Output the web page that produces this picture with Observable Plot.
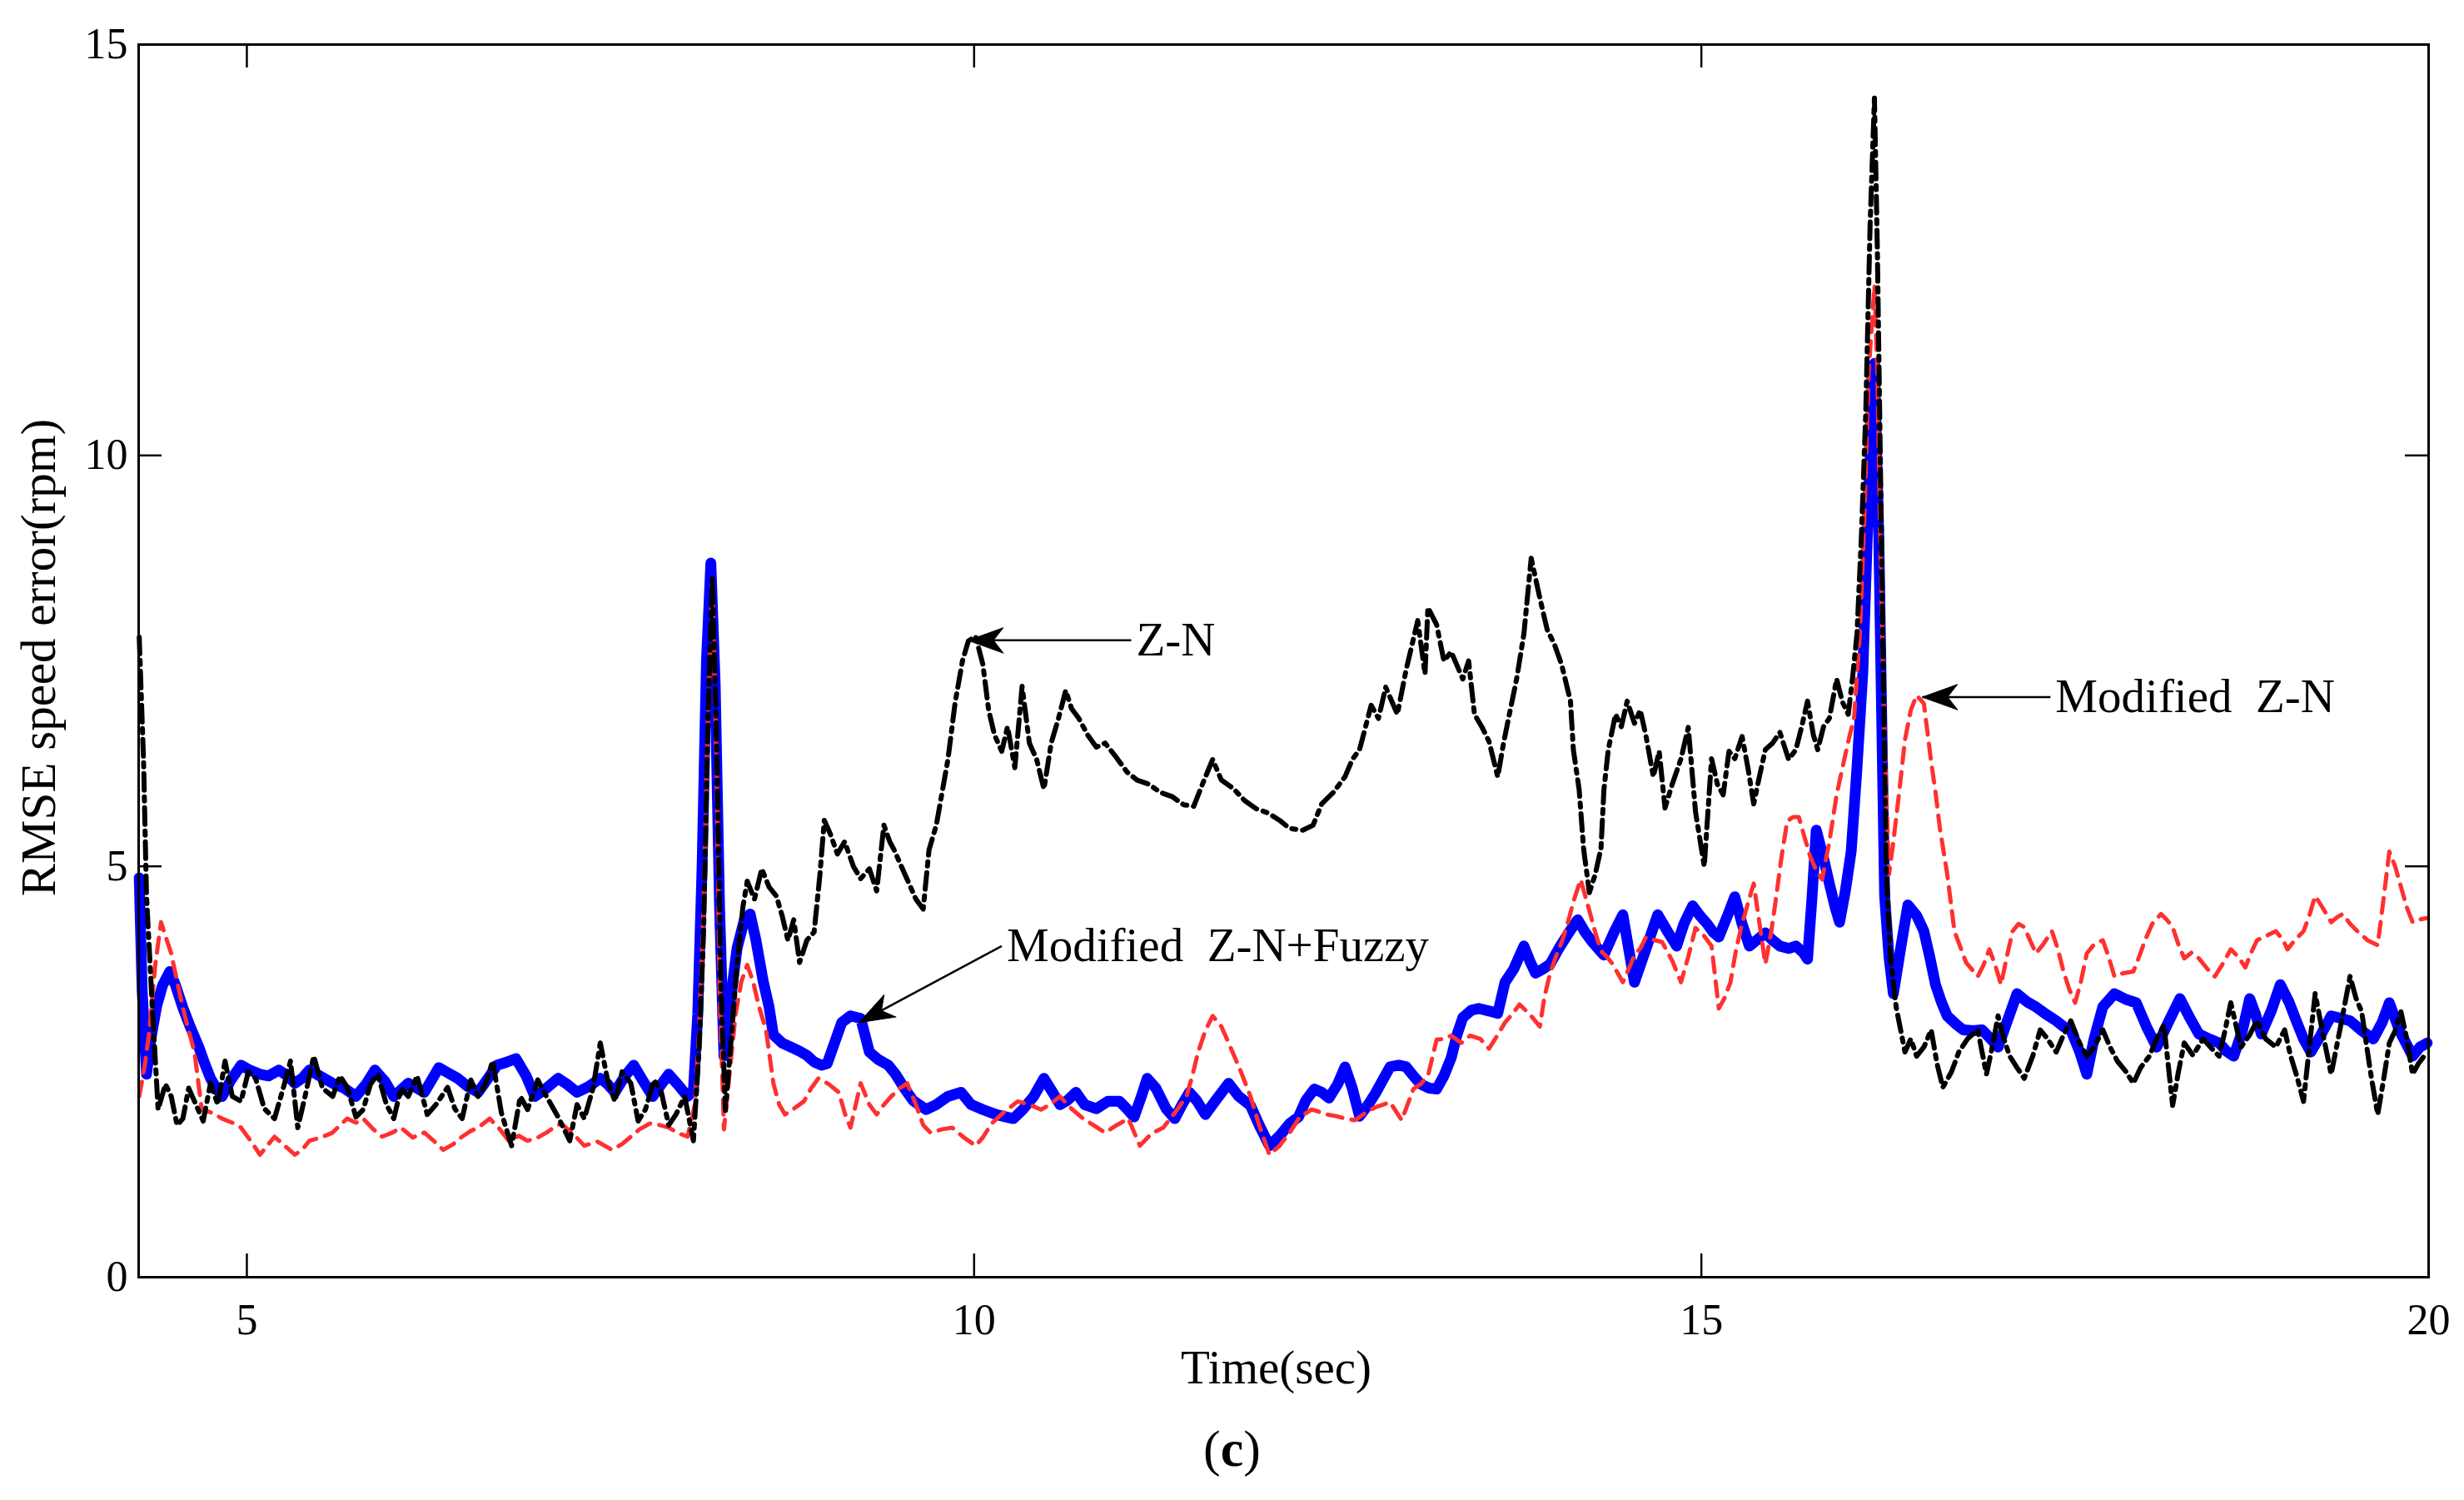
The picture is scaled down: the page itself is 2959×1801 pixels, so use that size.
<!DOCTYPE html>
<html>
<head>
<meta charset="utf-8">
<script src="https://cdn.jsdelivr.net/npm/d3@7"></script>
<script src="https://cdn.jsdelivr.net/npm/@observablehq/plot@0.6"></script>
<style>
  html, body { margin: 0; padding: 0; background: white; overflow: hidden; }
</style>
</head>
<body>
<div id="chart"></div>
<script>
// ---------- Data ----------
const xTicks = [5, 10, 15, 20];
const yTicks = [0, 5, 10, 15];

// Z-N (black, dash-dot)
const znTime = [4.26,4.29,4.31,4.35,4.39,4.44,4.48,4.52,4.56,4.60,4.64,4.70,4.75,4.80,4.85,4.90,4.96,5.01,5.06,5.12,5.19,5.25,5.30,5.35,5.40,5.46,5.52,5.59,5.64,5.69,5.75,5.80,5.85,5.90,5.96,6.01,6.06,6.11,6.17,6.24,6.30,6.38,6.43,6.48,6.54,6.59,6.64,6.69,6.75,6.82,6.88,6.93,7.00,7.06,7.14,7.22,7.27,7.32,7.38,7.43,7.48,7.53,7.58,7.64,7.69,7.74,7.80,7.85,7.90,7.95,8.01,8.07,8.11,8.14,8.17,8.20,8.23,8.26,8.29,8.33,8.37,8.41,8.44,8.49,8.54,8.59,8.64,8.68,8.72,8.76,8.80,8.85,8.90,8.94,8.97,9.01,9.06,9.11,9.17,9.22,9.28,9.33,9.38,9.42,9.45,9.50,9.55,9.60,9.65,9.69,9.74,9.78,9.82,9.87,9.92,9.96,10.01,10.06,10.10,10.14,10.19,10.23,10.28,10.33,10.38,10.43,10.48,10.53,10.58,10.63,10.67,10.72,10.78,10.84,10.90,10.98,11.05,11.12,11.20,11.28,11.36,11.44,11.51,11.57,11.64,11.70,11.78,11.86,11.94,12.02,12.10,12.17,12.26,12.33,12.39,12.47,12.55,12.60,12.65,12.73,12.78,12.83,12.91,12.97,13.05,13.10,13.12,13.18,13.23,13.28,13.36,13.40,13.44,13.49,13.54,13.60,13.64,13.68,13.73,13.78,13.83,13.89,13.94,13.99,14.04,14.10,14.12,14.16,14.19,14.23,14.27,14.31,14.33,14.36,14.41,14.45,14.49,14.54,14.58,14.62,14.67,14.71,14.75,14.80,14.86,14.91,14.96,15.02,15.07,15.11,15.15,15.19,15.23,15.28,15.32,15.36,15.40,15.44,15.49,15.54,15.60,15.65,15.69,15.73,15.77,15.80,15.84,15.88,15.93,15.97,16.01,16.04,16.07,16.10,16.13,16.16,16.19,16.21,16.23,16.25,16.27,16.30,16.34,16.40,16.44,16.48,16.53,16.58,16.62,16.66,16.72,16.77,16.83,16.90,16.96,17.00,17.04,17.08,17.12,17.17,17.22,17.28,17.33,17.38,17.44,17.49,17.54,17.60,17.65,17.70,17.76,17.81,17.86,17.92,17.97,18.02,18.08,18.13,18.18,18.24,18.28,18.32,18.38,18.45,18.50,18.56,18.60,18.64,18.71,18.77,18.82,18.88,18.95,19.01,19.05,19.09,19.14,19.18,19.22,19.28,19.33,19.40,19.46,19.50,19.54,19.60,19.65,19.69,19.73,19.77,19.81,19.85,19.89,19.93,19.99];
const znValue = [7.79,6.27,4.64,3.28,2.04,2.35,2.2,1.85,1.93,2.3,2.14,1.9,2.36,2.1,2.63,2.2,2.14,2.5,2.42,2.05,1.93,2.3,2.63,1.82,2.2,2.69,2.3,2.2,2.45,2.31,1.95,2.04,2.35,2.47,2.1,1.93,2.3,2.2,2.45,1.98,2.1,2.31,2.05,1.93,2.4,2.2,2.35,2.63,2.0,1.6,2.2,2.04,2.4,2.2,1.95,1.66,2.1,1.93,2.3,2.85,2.4,2.14,2.5,2.36,1.9,2.04,2.4,2.25,1.85,1.98,2.2,1.66,2.8,4.2,6.8,8.5,6.5,3.5,2.03,2.9,3.8,4.5,4.82,4.6,4.97,4.75,4.64,4.4,4.1,4.35,3.83,4.1,4.2,4.9,5.56,5.4,5.15,5.3,5.0,4.85,4.97,4.7,5.5,5.3,5.2,5.0,4.8,4.6,4.48,5.2,5.5,5.9,6.3,7.0,7.5,7.74,7.8,7.46,6.9,6.6,6.4,6.7,6.2,7.19,6.5,6.3,5.94,6.5,6.8,7.14,6.92,6.8,6.6,6.45,6.5,6.32,6.15,6.05,6.0,5.9,5.85,5.75,5.73,6.0,6.3,6.05,5.95,5.8,5.7,5.65,5.56,5.46,5.44,5.5,5.76,5.9,6.09,6.3,6.42,6.96,6.8,7.18,6.85,7.39,7.99,7.34,8.15,7.94,7.5,7.61,7.28,7.5,6.85,6.7,6.52,6.09,6.5,6.85,7.28,7.83,8.75,8.26,7.88,7.7,7.45,7.01,6.42,5.93,5.22,4.68,4.9,5.22,5.93,6.42,6.85,6.7,7.01,6.74,6.9,6.58,6.09,6.4,5.71,6.0,6.31,6.69,5.66,5.0,6.31,6.0,5.87,6.4,6.31,6.58,6.2,5.76,6.1,6.42,6.5,6.63,6.3,6.42,6.7,7.01,6.6,6.42,6.7,6.8,7.28,7.0,6.85,7.3,7.83,9.0,10.5,12.8,14.35,12.5,10.0,7.5,5.0,3.9,3.28,2.74,2.9,2.69,2.8,3.01,2.6,2.31,2.5,2.74,2.9,3.01,2.47,2.8,3.18,2.9,2.69,2.55,2.42,2.7,3.01,2.9,2.74,2.95,3.12,2.85,2.69,2.8,3.01,2.8,2.63,2.5,2.36,2.55,2.69,2.9,3.07,2.09,2.5,2.85,2.7,2.9,2.8,2.69,3.0,3.34,2.8,2.95,3.12,2.9,2.8,3.01,2.7,2.47,2.14,2.8,3.45,2.9,2.47,3.1,3.66,3.4,3.23,2.5,1.98,2.4,2.85,3.0,3.23,2.9,2.47,2.6,2.74];

// Modified Z-N (red, dashed)
const mznTime = [4.26,4.30,4.33,4.37,4.41,4.45,4.48,4.52,4.56,4.60,4.64,4.69,4.76,4.83,4.90,4.96,5.03,5.09,5.14,5.19,5.26,5.33,5.38,5.43,5.51,5.59,5.64,5.69,5.75,5.80,5.87,5.93,6.00,6.06,6.14,6.22,6.29,6.35,6.42,6.48,6.54,6.59,6.67,6.74,6.80,6.87,6.93,7.00,7.06,7.11,7.16,7.24,7.32,7.41,7.51,7.58,7.64,7.70,7.77,7.84,7.90,7.97,8.03,8.08,8.11,8.14,8.17,8.20,8.23,8.25,8.28,8.32,8.36,8.40,8.44,8.48,8.52,8.57,8.62,8.66,8.70,8.76,8.83,8.88,8.93,9.00,9.07,9.11,9.15,9.22,9.28,9.33,9.38,9.43,9.49,9.54,9.60,9.65,9.70,9.78,9.85,9.93,10.01,10.06,10.12,10.20,10.30,10.38,10.46,10.52,10.59,10.67,10.75,10.82,10.90,10.98,11.06,11.14,11.22,11.30,11.38,11.46,11.50,11.54,11.59,11.64,11.70,11.75,11.83,11.90,11.96,12.03,12.10,12.17,12.24,12.32,12.36,12.43,12.49,12.55,12.62,12.69,12.76,12.86,12.94,13.02,13.07,13.12,13.18,13.23,13.28,13.35,13.41,13.48,13.54,13.60,13.65,13.70,13.75,13.82,13.89,13.92,13.96,14.00,14.04,14.08,14.12,14.17,14.23,14.27,14.31,14.35,14.39,14.46,14.50,14.54,14.58,14.62,14.68,14.73,14.80,14.86,14.91,14.96,15.02,15.07,15.12,15.16,15.20,15.24,15.28,15.32,15.36,15.40,15.44,15.48,15.51,15.55,15.59,15.63,15.67,15.71,15.75,15.79,15.83,15.88,15.93,15.97,16.01,16.05,16.09,16.12,16.15,16.19,16.21,16.23,16.26,16.29,16.32,16.36,16.40,16.44,16.48,16.53,16.58,16.61,16.64,16.69,16.74,16.82,16.90,16.94,16.98,17.02,17.06,17.10,17.14,17.18,17.22,17.26,17.30,17.35,17.41,17.45,17.49,17.53,17.57,17.61,17.65,17.70,17.76,17.80,17.84,17.90,17.97,18.01,18.05,18.10,18.16,18.20,18.24,18.28,18.32,18.37,18.42,18.48,18.53,18.58,18.64,18.69,18.74,18.78,18.82,18.88,18.95,19.00,19.03,19.08,19.14,19.18,19.22,19.27,19.33,19.37,19.41,19.46,19.51,19.58,19.65,19.69,19.73,19.77,19.81,19.85,19.89,19.93,19.99];
const mznValue = [2.2,2.6,3.0,3.8,4.32,4.1,3.94,3.6,3.28,3.0,2.74,2.04,2.0,1.93,1.88,1.82,1.65,1.49,1.6,1.71,1.6,1.49,1.55,1.66,1.7,1.76,1.85,1.93,1.88,1.93,1.8,1.71,1.76,1.82,1.7,1.76,1.65,1.55,1.62,1.71,1.78,1.82,1.93,1.8,1.66,1.72,1.66,1.7,1.76,1.82,1.87,1.75,1.6,1.65,1.55,1.62,1.71,1.8,1.87,1.85,1.82,1.75,1.71,2.1,3.0,4.5,6.8,8.5,6.2,3.5,1.8,2.5,3.2,3.6,3.8,3.6,3.3,3.0,2.36,2.1,1.98,2.05,2.14,2.3,2.42,2.35,2.25,2.0,1.82,2.36,2.1,1.98,2.1,2.2,2.3,2.36,2.1,1.85,1.76,1.8,1.82,1.7,1.6,1.7,1.87,2.0,2.14,2.1,2.04,2.1,2.2,2.05,1.93,1.85,1.76,1.85,1.93,1.6,1.75,1.82,2.0,2.2,2.45,2.74,3.0,3.18,3.05,2.85,2.52,2.2,1.85,1.49,1.6,1.76,1.95,2.04,2.02,1.98,1.96,1.93,1.91,2.0,2.07,2.13,1.91,2.29,2.35,2.45,2.89,2.9,2.94,2.85,2.94,2.9,2.78,2.95,3.10,3.2,3.32,3.2,3.05,3.4,3.70,3.9,4.08,4.3,4.57,4.84,4.46,4.2,3.97,3.9,3.81,3.59,3.75,3.92,4.0,4.14,4.1,4.08,3.85,3.59,3.9,4.25,4.15,4.03,3.27,3.4,3.59,4.0,4.30,4.55,4.79,4.3,3.81,4.2,4.57,5.1,5.55,5.6,5.60,5.35,5.11,4.95,4.84,5.3,5.87,6.2,6.52,6.81,7.83,9.2,11.0,12.07,11.0,9.0,6.5,4.9,5.3,5.9,6.54,6.9,7.08,6.98,6.27,5.9,5.46,4.91,4.21,3.83,3.66,3.8,3.99,3.8,3.56,3.9,4.21,4.3,4.26,4.1,3.94,4.05,4.21,4.0,3.72,3.5,3.34,3.6,3.94,4.05,4.10,3.9,3.66,3.7,3.72,3.9,4.10,4.3,4.42,4.35,4.26,4.05,3.88,3.95,3.88,3.75,3.66,3.8,3.99,3.9,3.77,3.95,4.10,4.15,4.21,4.1,3.99,4.1,4.21,4.4,4.64,4.5,4.32,4.38,4.42,4.3,4.21,4.1,4.04,4.6,5.18,5.0,4.75,4.5,4.32,4.35,4.37];

// Modified Z-N+Fuzzy (blue, thick solid)
const fzTime = [4.26,4.28,4.31,4.34,4.38,4.42,4.47,4.51,4.56,4.61,4.67,4.71,4.75,4.79,4.83,4.89,4.96,5.02,5.09,5.15,5.22,5.28,5.33,5.38,5.43,5.50,5.59,5.67,5.75,5.82,5.88,5.95,6.01,6.06,6.11,6.17,6.22,6.27,6.32,6.39,6.45,6.52,6.59,6.65,6.72,6.79,6.85,6.92,6.98,7.06,7.14,7.20,7.27,7.35,7.43,7.48,7.53,7.60,7.66,7.72,7.79,7.85,7.90,7.96,8.03,8.07,8.10,8.13,8.16,8.19,8.22,8.25,8.28,8.32,8.37,8.42,8.46,8.50,8.55,8.59,8.62,8.68,8.74,8.80,8.85,8.90,8.95,8.99,9.04,9.09,9.15,9.22,9.28,9.34,9.41,9.46,9.52,9.58,9.67,9.74,9.82,9.91,9.98,10.06,10.15,10.22,10.27,10.34,10.41,10.48,10.54,10.59,10.64,10.70,10.76,10.84,10.92,11.00,11.05,11.10,11.15,11.19,11.25,11.32,11.38,11.43,11.48,11.53,11.59,11.66,11.75,11.82,11.90,11.96,12.03,12.10,12.17,12.23,12.28,12.34,12.39,12.44,12.50,12.55,12.60,12.65,12.71,12.76,12.81,12.86,12.92,12.97,13.02,13.07,13.13,13.18,13.23,13.28,13.32,13.36,13.42,13.47,13.54,13.60,13.65,13.71,13.78,13.82,13.86,13.91,13.96,14.02,14.07,14.11,14.15,14.20,14.25,14.29,14.33,14.40,14.46,14.50,14.54,14.62,14.70,14.77,14.83,14.88,14.94,14.99,15.04,15.08,15.12,15.18,15.23,15.28,15.33,15.38,15.44,15.49,15.54,15.60,15.65,15.70,15.73,15.76,15.79,15.84,15.88,15.92,15.95,15.99,16.03,16.07,16.11,16.15,16.19,16.22,16.24,16.26,16.29,16.32,16.37,16.42,16.48,16.53,16.57,16.61,16.65,16.69,16.75,16.80,16.87,16.93,16.99,17.04,17.10,17.17,17.24,17.30,17.37,17.44,17.49,17.54,17.60,17.65,17.70,17.76,17.84,17.92,17.99,18.06,18.13,18.21,18.29,18.36,18.42,18.49,18.56,18.61,18.66,18.72,18.77,18.81,18.85,18.92,18.98,19.04,19.09,19.14,19.19,19.26,19.33,19.40,19.46,19.54,19.62,19.68,19.73,19.80,19.89,19.94,19.99];
const fzValue = [4.86,3.5,2.47,2.9,3.3,3.55,3.72,3.55,3.28,3.05,2.8,2.6,2.42,2.3,2.2,2.4,2.58,2.52,2.47,2.45,2.52,2.45,2.36,2.42,2.52,2.45,2.36,2.3,2.2,2.35,2.52,2.38,2.2,2.28,2.36,2.3,2.25,2.4,2.55,2.48,2.42,2.32,2.25,2.4,2.58,2.62,2.66,2.45,2.2,2.3,2.42,2.35,2.25,2.32,2.42,2.35,2.25,2.45,2.58,2.4,2.2,2.35,2.47,2.35,2.2,2.27,3.2,5.0,7.5,8.69,7.2,4.5,2.69,3.3,4.0,4.35,4.42,4.1,3.6,3.29,2.95,2.85,2.8,2.75,2.7,2.62,2.58,2.6,2.85,3.1,3.18,3.15,2.74,2.65,2.58,2.47,2.3,2.15,2.04,2.1,2.2,2.25,2.1,2.04,1.98,1.95,1.93,2.05,2.2,2.42,2.25,2.1,2.15,2.25,2.1,2.05,2.14,2.14,2.05,1.95,2.2,2.42,2.3,2.05,1.93,2.1,2.25,2.15,1.98,2.15,2.36,2.2,2.09,1.85,1.6,1.72,1.87,1.95,2.15,2.29,2.25,2.18,2.35,2.56,2.3,1.96,2.1,2.24,2.4,2.56,2.58,2.56,2.45,2.35,2.3,2.29,2.45,2.67,2.95,3.16,3.25,3.27,3.24,3.21,3.59,3.75,4.03,3.85,3.70,3.75,3.81,4.0,4.14,4.25,4.35,4.2,4.08,4.0,3.92,4.2,4.41,4.0,3.59,4.0,4.41,4.2,4.03,4.3,4.52,4.4,4.30,4.2,4.14,4.4,4.63,4.3,4.03,4.1,4.19,4.1,4.03,4.0,4.03,3.95,3.87,4.6,5.44,5.1,4.79,4.5,4.32,4.7,5.18,6.2,7.36,9.5,11.12,9.0,6.8,4.64,3.9,3.45,4.0,4.53,4.4,4.21,3.9,3.56,3.35,3.18,3.08,3.01,3.0,3.01,2.9,2.80,3.1,3.45,3.35,3.29,3.2,3.12,3.05,3.01,2.75,2.47,2.9,3.29,3.45,3.38,3.34,3.05,2.80,3.1,3.39,3.15,2.96,2.9,2.85,2.75,2.69,3.0,3.39,3.2,2.96,3.25,3.56,3.35,3.12,2.9,2.74,2.95,3.18,3.15,3.12,3.0,2.90,3.1,3.34,3.0,2.69,2.8,2.85];

// Annotations: label, text anchor point (t, value), arrow tip (t, value)
const annLabel = ["Z-N", "Modified\u00a0 Z-N+Fuzzy", "Modified\u00a0 Z-N"];
const annTextT = [11.08, 10.19, 17.40];
const annTextV = [7.75, 4.03, 7.06];
const annTipT  = [9.96, 9.21, 16.52];
const annTipV  = [7.75, 3.10, 7.06];

// ---------- Build tables ----------
const toRows = (ts, vs) => ts.map((t, i) => ({t, v: vs[i]}));
const zn = toRows(znTime, znValue);
const mzn = toRows(mznTime, mznValue);
const fz = toRows(fzTime, fzValue);

const W = 2959, H = 1801;
const mL = 166, mR = 43, mT = 53, mB = 268;
const frameW = W - mL - mR, frameH = H - mT - mB;
const xDomain = [4.256, 20], yDomain = [0, 15];
const kx = frameW / (xDomain[1] - xDomain[0]);
const ky = frameH / (yDomain[1] - yDomain[0]);

const ann = annLabel.map((label, i) => {
  const dxs = (annTipT[i] - annTextT[i]) * kx;
  const dys = -(annTipV[i] - annTextV[i]) * ky;
  return {
    label, textT: annTextT[i], textV: annTextV[i], tipT: annTipT[i], tipV: annTipV[i],
    angle: Math.atan2(dxs, -dys) * 180 / Math.PI
  };
});

const dart = {
  draw(context, l) {
    const w = l * 0.36;
    context.moveTo(0, -l);
    context.lineTo(w, 0);
    context.lineTo(0, -l * 0.28);
    context.lineTo(-w, 0);
    context.closePath();
  }
};

const tickLen = 28;
const font = "'Liberation Serif', 'Times New Roman', serif";
const fmt = d => String(d);

const chart = Plot.plot({
  width: W, height: H,
  marginLeft: mL, marginRight: mR, marginTop: mT, marginBottom: mB,
  style: {fontFamily: font, fontSize: "52px", background: "white", color: "black"},
  x: {domain: xDomain},
  y: {domain: yDomain},
  marks: [
    Plot.line(fz, {x: "t", y: "v", stroke: "#0000ff", strokeWidth: 13, strokeLinejoin: "round"}),
    Plot.line(mzn, {x: "t", y: "v", stroke: "#ff3030", strokeWidth: 5, strokeDasharray: "18,11"}),
    Plot.line(zn, {x: "t", y: "v", stroke: "black", strokeWidth: 6, strokeDasharray: "20,8,5,8"}),
    Plot.frame({stroke: "black", strokeWidth: 3}),
    Plot.ruleX(xTicks, {insetTop: frameH - tickLen, stroke: "black", strokeWidth: 2.5}),
    Plot.ruleX(xTicks, {insetBottom: frameH - tickLen, stroke: "black", strokeWidth: 2.5}),
    Plot.ruleY(yTicks, {insetRight: frameW - tickLen, stroke: "black", strokeWidth: 2.5}),
    Plot.ruleY(yTicks, {insetLeft: frameW - tickLen, stroke: "black", strokeWidth: 2.5}),
    Plot.axisX(xTicks, {anchor: "bottom", tickSize: 0, tickPadding: 32, label: null, fontSize: 52, tickFormat: fmt}),
    Plot.axisY(yTicks, {anchor: "left", tickSize: 0, tickPadding: 13, label: null, fontSize: 52, tickFormat: fmt}),
    Plot.text(["Time(sec)"], {frameAnchor: "bottom", dx: -9, dy: 109, fontSize: 57, textAnchor: "middle", lineAnchor: "middle"}),
    Plot.text(["RMSE speed error(rpm)"], {frameAnchor: "left", dx: -119, dy: -4, rotate: -90, fontSize: 59, textAnchor: "middle", lineAnchor: "middle"}),
    Plot.text(["(c)"], {frameAnchor: "bottom", dx: -62, dy: 207, fontSize: 62, textAnchor: "middle", lineAnchor: "middle"}),
    Plot.link(ann, {x1: "textT", y1: "textV", x2: "tipT", y2: "tipV", stroke: "black", strokeWidth: 2.5}),
    Plot.vector(ann, {x: "tipT", y: "tipV", rotate: "angle", length: 42, anchor: "end", shape: dart, fill: "black", stroke: "black", strokeWidth: 1}),
    Plot.text(ann, {x: "textT", y: "textV", text: "label", textAnchor: "start", lineAnchor: "middle", dx: 6, fontSize: 57})
  ]
});

// Bold "c" inside the panel caption "(c)"
d3.select(chart).selectAll("text").each(function() {
  if (this.textContent === "(c)") {
    const t = d3.select(this);
    t.text("");
    t.append("tspan").text("(");
    t.append("tspan").attr("font-weight", "bold").text("c");
    t.append("tspan").text(")");
  }
});

document.getElementById("chart").appendChild(chart);
</script>
</body>
</html>
